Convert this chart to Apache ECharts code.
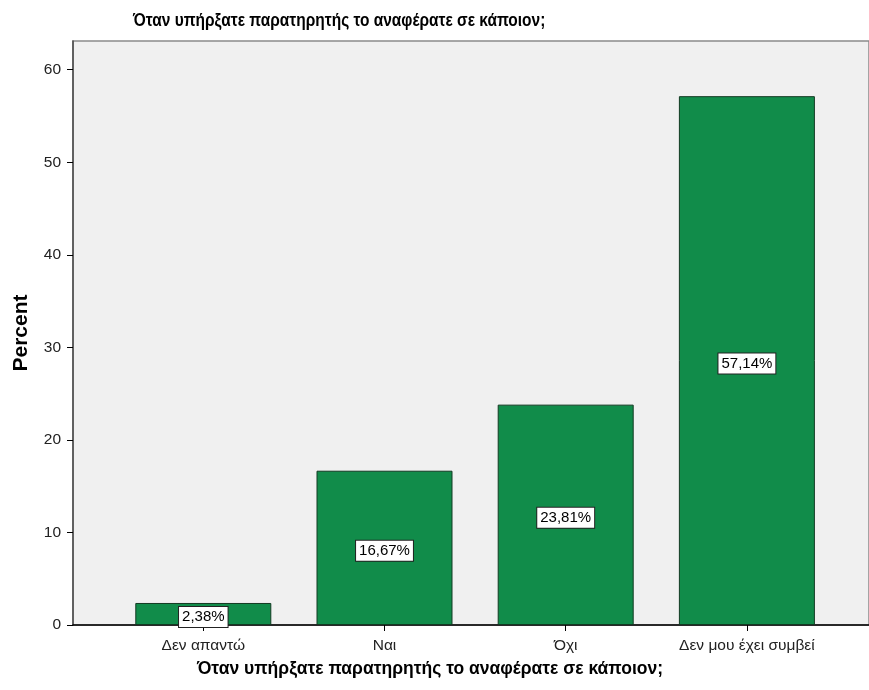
<!DOCTYPE html>
<html>
<head>
<meta charset="utf-8">
<script src="https://cdn.jsdelivr.net/npm/echarts@6/dist/echarts.min.js"></script>
<style>html,body{margin:0;padding:0;background:#fff}#c{width:869px;height:690px}</style>
</head>
<body>
<div id="c"></div>
<script>
const chartTitle = 'Όταν υπήρξατε παρατηρητής το αναφέρατε σε κάποιον;';
const categories = ['Δεν απαντώ', 'Ναι', 'Όχι', 'Δεν μου έχει συμβεί'];
const percentValues = [2.38, 16.67, 23.81, 57.14];
const yTicks = [0, 10, 20, 30, 40, 50, 60];
const yMax = 63.1;

const chart = echarts.init(document.getElementById('c'), null, {renderer: 'canvas'});
const fontFam = 'Arial, "Liberation Sans", sans-serif';
chart.setOption({
  animation: false,
  backgroundColor: '#ffffff',
  graphic: [{
    type: 'text', left: 133, top: 12, scaleX: 0.86,
    style: {text: chartTitle, font: 'bold 18px Arial, "Liberation Sans", sans-serif', fill: '#000'}
  }],
  grid: [
    {left: 73, right: 0, top: 41, bottom: 65, show: true, backgroundColor: '#F0F0F0', borderColor: '#8a8a8a', borderWidth: 1.5},
    {left: 112.7, right: 31.5, top: 41, bottom: 65}
  ],
  xAxis: [
    {gridIndex: 0, type: 'category', data: categories,
     axisLine: {show: true, lineStyle: {color: '#000', width: 1.5}},
     axisTick: {show: false}, axisLabel: {show: false}, splitLine: {show: false},
     name: chartTitle, nameLocation: 'middle', nameGap: 35,
     nameTextStyle: {fontFamily: fontFam, fontWeight: 'bold', fontSize: 17.5, color: '#000', padding: [0, 0, 0, -82]}},
    {gridIndex: 1, type: 'category', data: categories,
     axisLine: {show: false},
     axisTick: {show: true, alignWithLabel: true, length: 6, lineStyle: {color: '#000', width: 1}},
     axisLabel: {fontFamily: fontFam, fontSize: 15.5, color: '#222', margin: 13, interval: 0, hideOverlap: false},
     splitLine: {show: false}}
  ],
  yAxis: [
    {gridIndex: 0, type: 'value', min: 0, max: yMax, interval: 10,
     axisLine: {show: true, lineStyle: {color: '#4a4a4a', width: 1.5}},
     axisTick: {show: true, length: 6, lineStyle: {color: '#000', width: 1}},
     axisLabel: {fontFamily: fontFam, fontSize: 15.5, color: '#222', margin: 12, showMaxLabel: false,
       formatter: v => yTicks.includes(v) ? String(v) : ''},
     splitLine: {show: false},
     name: 'Percent', nameLocation: 'middle', nameGap: 41, nameRotate: 90,
     nameTextStyle: {fontFamily: fontFam, fontWeight: 'bold', fontSize: 21, color: '#000'}},
    {gridIndex: 1, type: 'value', min: 0, max: yMax, interval: 10, show: false}
  ],
  series: [{
    type: 'bar',
    xAxisIndex: 1, yAxisIndex: 1,
    data: percentValues,
    barWidth: 136,
    itemStyle: {color: '#118C4A', borderColor: '#123a22', borderWidth: 1},
    label: {
      show: true, position: 'inside', offset: [0, 3],
      formatter: p => p.value.toFixed(2).replace('.', ',') + '%',
      fontFamily: fontFam, fontSize: 15, color: '#000',
      backgroundColor: '#fff', borderColor: '#222', borderWidth: 1, padding: [3, 3, 2, 3]
    }
  }]
});
</script>
</body>
</html>
